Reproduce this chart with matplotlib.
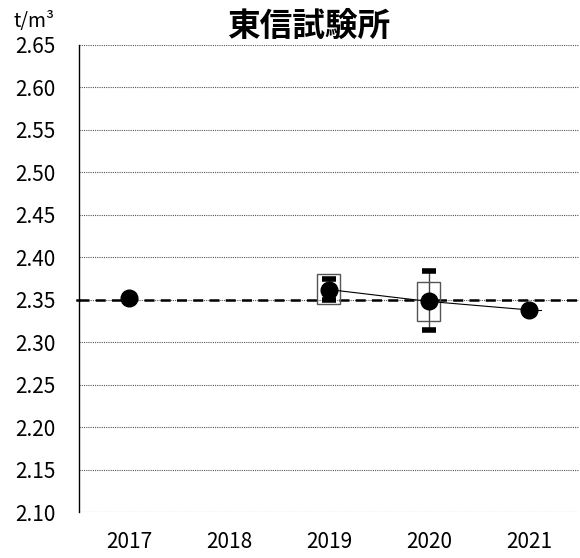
import matplotlib
matplotlib.use('Agg')
import matplotlib.pyplot as plt
import numpy as np

plt.rcParams['font.family'] = ['Noto Sans CJK JP', 'DejaVu Sans']

# ── data ───────────────────────────────────────────────────────────────────
years = ['2017', '2018', '2019', '2020', '2021']
mean = [2.352, np.nan, 2.362, 2.348, 2.338]
box_lo = [np.nan, np.nan, 2.345, 2.325, np.nan]
box_hi = [np.nan, np.nan, 2.380, 2.371, np.nan]
wh_lo = [np.nan, np.nan, 2.350, 2.314, np.nan]
wh_hi = [np.nan, np.nan, 2.374, 2.384, np.nan]
ref_value = 2.35
yticks = [2.10, 2.15, 2.20, 2.25, 2.30, 2.35, 2.40, 2.45, 2.50, 2.55, 2.60, 2.65]

fig = plt.figure(figsize=(5.8, 5.58), dpi=100)
ax = fig.add_axes([0.136, 0.0824, 0.862, 0.837])
x = np.arange(len(years))

# gridlines
for y in yticks:
    ax.axhline(y, color='#555555', linestyle=(0, (1, 1)), linewidth=0.8, zorder=0)

# reference line (with the short stub on the left spine)
ax.axhline(ref_value, color='black', linestyle=(0, (4, 2.5)), linewidth=1.8, zorder=2)
ax.plot([-0.52, -0.5], [ref_value, ref_value], color='black', linewidth=1.8,
        clip_on=False, zorder=2)

# boxes and whiskers
bw = 0.23
for i in x:
    if np.isnan(box_lo[i]):
        continue
    ax.vlines(i, wh_lo[i], wh_hi[i], color='#444444', linewidth=1.0, zorder=3)
    ax.hlines([wh_lo[i], wh_hi[i]], i - 0.07, i + 0.07, color='black', linewidth=4, zorder=3)
    ax.add_patch(plt.Rectangle((i - bw / 2, box_lo[i]), bw, box_hi[i] - box_lo[i],
                               facecolor='none', edgecolor='#555555', linewidth=1.0, zorder=3))

# mean line and markers
ax.plot(x, mean, color='black', linewidth=0.8, zorder=4)
ax.plot([x[-1], x[-1] + 0.12], [mean[-1], mean[-1]], color='black', linewidth=0.8, zorder=4)
ax.plot(x, mean, 'o', color='black', markersize=12, zorder=5)

ax.set_xlim(-0.5, 4.5)
ax.set_ylim(2.10, 2.65)
ax.set_yticks(yticks)
ax.set_yticklabels([f'{v:.2f}' for v in yticks], fontsize=15)
ax.set_xticks(x)
ax.set_xticklabels(years, fontsize=15)
ax.tick_params(axis='y', length=0, pad=17)
ax.tick_params(axis='x', length=0, pad=14)
for s in ['top', 'right', 'bottom']:
    ax.spines[s].set_visible(False)
ax.spines['left'].set_linewidth(1.0)

fig.text(0.532, 0.952, '東信試験所', fontsize=23.5, fontweight='bold',
         ha='center', va='center')
fig.text(0.024, 0.962, 't/m³', fontsize=14, ha='left', va='center')

fig.savefig('out.png', dpi=100, facecolor='white')
